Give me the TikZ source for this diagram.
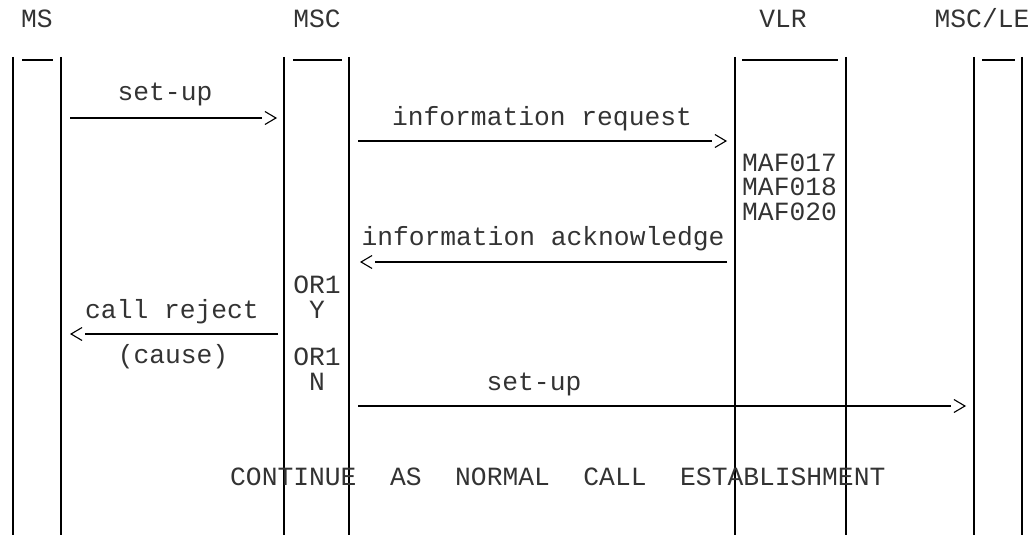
\documentclass[tikz,border=0pt]{standalone}
\usepackage{fontspec}
\setmonofont{Liberation Mono}
\usetikzlibrary{arrows.meta,calc}
\begin{document}
\begin{tikzpicture}[x=1pt,y=-1pt,
  lifeline/.style={line width=1.4pt},
  topbar/.style={line width=1.2pt},
  msgline/.style={line width=2.2pt, shorten >=15pt},
  chev/.style={line width=1.1pt, -{Straight Barb[length=11pt,width=13pt]}},
  lbl/.style={font=\ttfamily\fontsize{26.3}{30}\selectfont, inner sep=0pt, anchor=base, text=black!80},
  lblw/.style={lbl, anchor=base west},
  tight/.style={text height=16pt, text depth=4pt},
]
\useasboundingbox (0,0) rectangle (1030,535);
% headers
\node[lbl] (hMS) at (37,28) {MS};
\node[lbl] (hMSC) at (317,28) {MSC};
\node[lbl] (hVLR) at (783,28) {VLR};
\node[lbl] (hLE) at (982,28) {MSC/LE};
% lifelines
\foreach \n/\x in {msA/13, msB/61, mscA/284, mscB/349, vlrA/735, vlrB/846, leA/974, leB/1022} {
  \coordinate (\n t) at (\x,57);
  \coordinate (\n b) at (\x,535);
  \draw[lifeline] (\n t) -- (\n b);
}
% top bars
\foreach \n/\a/\b in {ms/22/53, msc/293/342, vlr/742/838, le/982/1015} {
  \coordinate (\n barL) at (\a,60);
  \coordinate (\n barR) at (\b,60);
  \draw[topbar] (\n barL) -- (\n barR);
}
% messages: line + open chevron
\foreach \s/\e/\xs/\xe/\y in {m1s/m1e/70/277/118, m2s/m2e/358/727/141, m3s/m3e/727/360/262, m4s/m4e/278/70/334, m5s/m5e/358/966/406} {
  \coordinate (\s) at (\xs,\y);
  \coordinate (\e) at (\xe,\y);
  \draw[msgline] (\s) -- (\e);
  \draw[chev] ($(\e)!1pt!(\s)$) -- (\e);
}
\node[lbl] (l1) at (165,100) {set-up};
\node[lbl] (l2) at (542,125) {information request};
% VLR tasks
\node[lblw, tight] (maf1) at (742,171) {MAF017};
\node[lblw, tight] (maf2) at (742,195.5) {MAF018};
\node[lblw, tight] (maf3) at (742,220) {MAF020};
\node[lbl] (l3) at (543,245) {information acknowledge};
% decision Y
\node[lbl, tight] (or1a) at (317,293) {OR1};
\node[lbl, tight] (ya) at (317,318) {Y};
\node[lbl] (l4) at (172,318) {call reject};
\node[lbl] (l4b) at (173,363) {(cause)};
% decision N
\node[lbl, tight] (or1b) at (317,365) {OR1};
\node[lbl, tight] (na) at (317,390) {N};
\node[lbl] (l5) at (534,390) {set-up};
% continuation
\node[lblw] (cont) at (230,485) {CONTINUE\hspace{33.6pt}AS\hspace{33.6pt}NORMAL\hspace{33.6pt}CALL\hspace{33.6pt}ESTABLISHMENT};
\end{tikzpicture}
\end{document}
